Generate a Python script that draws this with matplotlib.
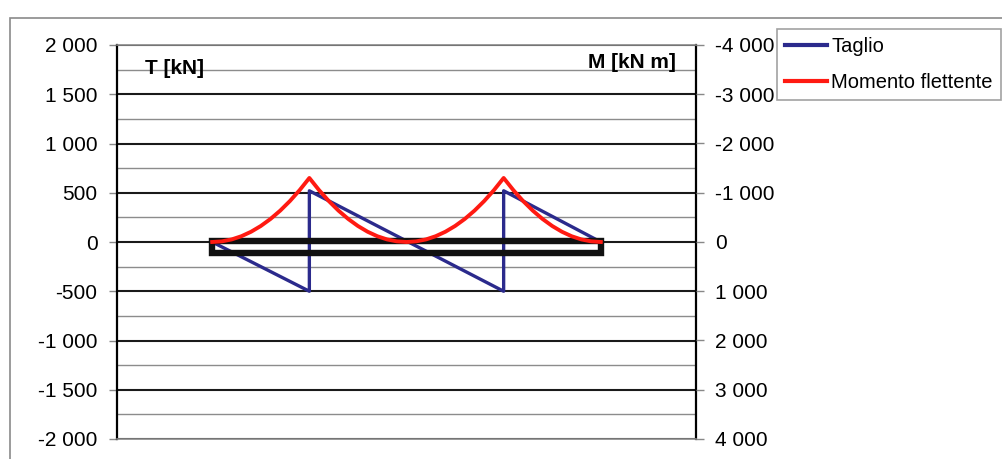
import matplotlib
matplotlib.use('Agg')
import matplotlib.pyplot as plt
from matplotlib.patches import Rectangle
from matplotlib.ticker import MultipleLocator

plt.rcParams['font.family'] = ['Liberation Sans', 'DejaVu Sans']

# ascissa lungo la trave [m]
x_taglio = [0, 5, 5, 15, 15, 20]
taglio = [0, -500, 520, -500, 520, 0]

x_momento = [0, 0.5, 1, 1.5, 2, 2.5, 3, 3.5, 4, 4.5, 5,
             5.5, 6, 6.5, 7, 7.5, 8, 8.5, 9, 9.5, 10,
             10.5, 11, 11.5, 12, 12.5, 13, 13.5, 14, 14.5, 15,
             15.5, 16, 16.5, 17, 17.5, 18, 18.5, 19, 19.5, 20]
momento = [0, -13, -52, -117, -208, -325, -468, -637, -832, -1053, -1300,
           -1053, -832, -637, -468, -325, -208, -117, -52, -13, 0,
           -13, -52, -117, -208, -325, -468, -637, -832, -1053, -1300,
           -1053, -832, -637, -468, -325, -208, -117, -52, -13, 0]

# trave (estremi e spessore disegnato)
trave_x = [0, 20]
trave_y = [-115, 10]

t_ticks = [-2000, -1500, -1000, -500, 0, 500, 1000, 1500, 2000]
m_ticks = [-4000, -3000, -2000, -1000, 0, 1000, 2000, 3000, 4000]


def fmt(v):
    return '{:,}'.format(v).replace(',', ' ')


fig = plt.figure(figsize=(10.02, 4.59), dpi=100)
ax = fig.add_axes([117 / 1002, 1 - 439 / 459, 579 / 1002, 394 / 459])

# cornice dell'area grafico (tagliata a destra e in basso)
fig.add_artist(Rectangle((10 / 1002, -0.1), 1.1, 1 - 18 / 459 + 0.1,
                         transform=fig.transFigure, fill=False,
                         edgecolor='#8a8a8a', linewidth=1.2))

ax.set_xlim(-4.9, 24.9)
ax.set_ylim(-2000, 2000)
ax.set_yticks(t_ticks)
ax.set_yticklabels([fmt(v) for v in t_ticks])
ax.yaxis.set_minor_locator(MultipleLocator(250))
ax.set_xticks([])
ax.grid(True, which='major', axis='y', color='#1a1a1a', linewidth=1.5)
ax.grid(True, which='minor', axis='y', color='#8c8c8c', linewidth=1.0)
ax.set_axisbelow(True)
ax.tick_params(axis='y', which='major', direction='out', length=6, width=1,
               color='#888888', labelsize=15, pad=8)
ax.tick_params(axis='y', which='minor', length=0)
for s in ['top', 'bottom']:
    ax.spines[s].set_color('#888888')
    ax.spines[s].set_linewidth(1.2)
ax.spines['left'].set_linewidth(1.6)
ax.spines['right'].set_linewidth(1.6)

l1, = ax.plot(x_taglio, taglio, color='#2b2a8c', linewidth=2.4, zorder=3)

# trave
ax.add_patch(Rectangle((trave_x[0], trave_y[0]), trave_x[1] - trave_x[0],
                       trave_y[1] - trave_y[0], fill=False,
                       edgecolor='#111111', linewidth=4.6, zorder=4))

ax2 = ax.twinx()
ax2.set_ylim(4000, -4000)
ax2.set_yticks(m_ticks)
ax2.set_yticklabels([fmt(v) for v in m_ticks])
ax2.tick_params(axis='y', direction='out', length=6, width=1,
                color='#888888', labelsize=15, pad=8)
for s in ax2.spines.values():
    s.set_visible(False)
l2, = ax2.plot(x_momento, momento, color='#ff1a12', linewidth=2.8,
               zorder=5)

ax.text(0.048, 0.94, 'T [kN]', transform=ax.transAxes, fontsize=15,
        fontweight='bold', ha='left', va='center')
ax.text(0.965, 0.955, 'M [kN m]', transform=ax.transAxes, fontsize=15,
        fontweight='bold', ha='right', va='center')

leg = fig.legend([l1, l2], ['Taglio', 'Momento flettente'],
                 loc='upper left', bbox_to_anchor=(777 / 1002, 1 - 29 / 459),
                 fontsize=14.5, frameon=True, fancybox=False,
                 edgecolor='#8a8a8a', handlelength=2.1, handletextpad=0.2,
                 labelspacing=0.85, borderpad=0.4, borderaxespad=0)
leg.get_frame().set_linewidth(1.2)
for h in leg.legend_handles:
    h.set_linewidth(3)

fig.savefig('out.png', dpi=100)
